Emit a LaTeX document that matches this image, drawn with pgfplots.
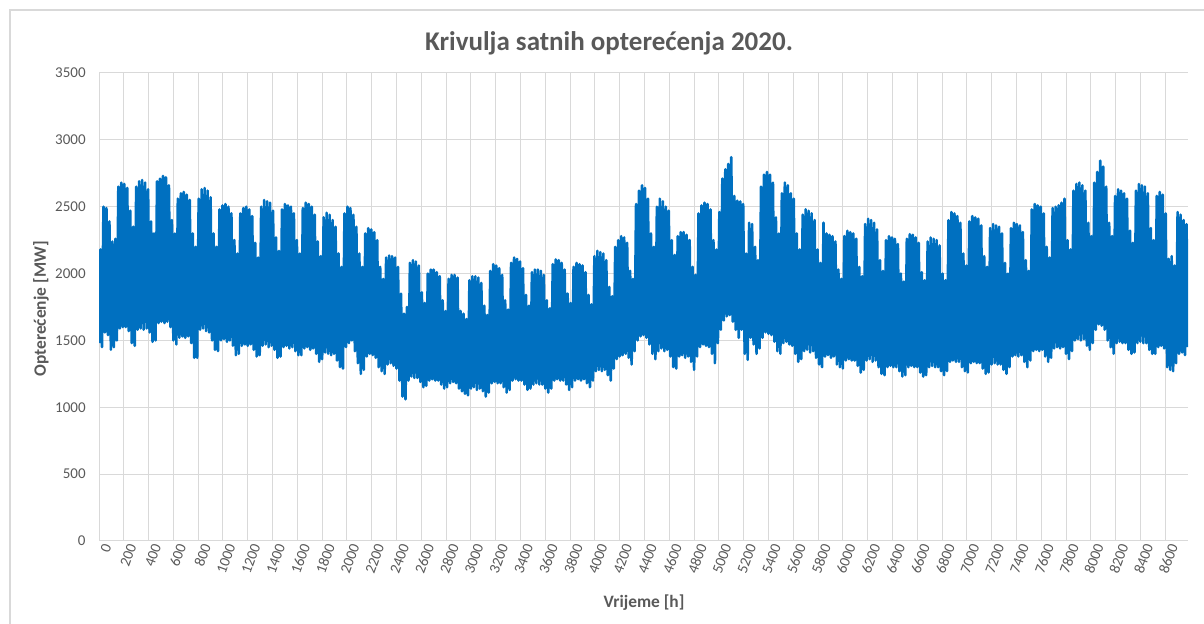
\documentclass[border=0pt]{standalone}
\usepackage{pgfplots}
\pgfplotsset{compat=1.18}
\usepackage{fontspec}
\setmainfont{Carlito}
\definecolor{loadblue}{RGB}{0,112,192}
\definecolor{txtgray}{RGB}{89,89,89}
\definecolor{gridgray}{RGB}{217,217,217}
\begin{document}
\begin{tikzpicture}[x=1pt,y=1pt]
% picture frame: 1204x624 px at 0.5pt per px
\useasboundingbox (0,0) rectangle (602,312);
\draw[gridgray, line width=0.6pt] (5,0) -- (5,307) -- (602,307);
\node[font=\bfseries\fontsize{13.5}{15}\selectfont, text=txtgray] at (304.5,290.5) {Krivulja satnih opterećenja 2020.};
\begin{axis}[
  at={(49.5pt,41.5pt)}, anchor=south west,
  scale only axis,
  width=544.5pt, height=234pt,
  xmin=0, xmax=8784,
  ymin=0, ymax=3500,
  xtick distance=200,
  ytick distance=500,
  grid=major,
  major grid style={gridgray, line width=0.5pt},
  axis line style={draw=none},
  major tick length=0pt,
  /pgf/number format/assume math mode=true,
  /pgf/number format/set thousands separator={},
  scaled ticks=false,
  tick label style={font=\fontsize{7.5}{8.5}\selectfont, text=txtgray},
  yticklabel style={inner sep=0pt, anchor=east, xshift=-6.5pt},
  xticklabel style={inner sep=0pt, rotate=70, anchor=east, yshift=-4.5pt},
  xlabel={Vrijeme [h]},
  ylabel={Opterećenje [MW]},
  label style={font=\bfseries\fontsize{8.7}{10}\selectfont, text=txtgray},
  xlabel style={at={(axis description cs:0.5005,-0.1325)}, anchor=center},
  ylabel style={at={(axis description cs:-0.0533,0.496)}, anchor=center, rotate=0},
]
\addplot[loadblue, line width=1.3pt, mark=none, line join=round] coordinates {
(0,1480)(12,2180)(24,1450)(36,2500)(48,1560)(60,2490)(72,1540)(84,2390)(96,1430)(108,2240)
(120,1450)(132,2260)(144,1500)(156,2650)(168,1590)(180,2680)(192,1600)(204,2670)(216,1600)(228,2640)(240,1570)(252,2470)(264,1480)(276,2350)
(288,1460)(300,2650)(312,1580)(324,2690)(336,1590)(348,2700)(360,1580)(372,2680)(384,1590)(396,2630)(408,1560)(420,2390)(432,1490)(444,2300)
(456,1500)(468,2690)(480,1630)(492,2710)(504,1640)(516,2730)(528,1630)(540,2720)(552,1640)(564,2660)(576,1600)(588,2400)(600,1500)(612,2300)
(624,1470)(636,2560)(648,1520)(660,2600)(672,1530)(684,2610)(696,1520)(708,2590)(720,1530)(732,2550)(744,1480)(756,2300)(768,1370)(780,2200)
(792,1370)(804,2560)(816,1580)(828,2630)(840,1590)(852,2640)(864,1570)(876,2620)(888,1560)(900,2570)(912,1500)(924,2300)(936,1430)(948,2200)
(960,1420)(972,2480)(984,1500)(996,2510)(1008,1510)(1020,2520)(1032,1490)(1044,2500)(1056,1500)(1068,2450)(1080,1460)(1092,2250)(1104,1390)(1116,2150)
(1128,1400)(1140,2450)(1152,1460)(1164,2490)(1176,1470)(1188,2500)(1200,1460)(1212,2480)(1224,1470)(1236,2430)(1248,1430)(1260,2230)(1272,1380)(1284,2120)
(1296,1390)(1308,2500)(1320,1460)(1332,2550)(1344,1470)(1356,2540)(1368,1450)(1380,2530)(1392,1460)(1404,2470)(1416,1430)(1428,2270)(1440,1370)(1452,2170)
(1464,1380)(1476,2480)(1488,1450)(1500,2520)(1512,1460)(1524,2510)(1536,1440)(1548,2500)(1560,1450)(1572,2450)(1584,1420)(1596,2250)(1608,1390)(1620,2150)
(1632,1390)(1644,2490)(1656,1440)(1668,2530)(1680,1450)(1692,2520)(1704,1430)(1716,2500)(1728,1440)(1740,2440)(1752,1400)(1764,2240)(1776,1340)(1788,2130)
(1800,1360)(1812,2420)(1824,1410)(1836,2455)(1848,1400)(1860,2440)(1872,1390)(1884,2400)(1896,1400)(1908,2350)(1920,1350)(1932,2150)(1944,1300)(1956,2050)
(1968,1290)(1980,2450)(1992,1450)(2004,2500)(2016,1480)(2028,2490)(2040,1500)(2052,2440)(2064,1420)(2076,2350)(2088,1330)(2100,2150)(2112,1250)(2124,2050)
(2136,1280)(2148,2300)(2160,1380)(2172,2340)(2184,1400)(2196,2330)(2208,1390)(2220,2310)(2232,1370)(2244,2250)(2256,1300)(2268,2050)(2280,1270)(2292,1960)
(2304,1250)(2316,2120)(2328,1320)(2340,2135)(2352,1330)(2364,2130)(2376,1310)(2388,2120)(2400,1290)(2412,2050)(2424,1200)(2436,1850)(2448,1080)(2460,1700)
(2472,1060)(2484,1750)(2496,1200)(2508,2080)(2520,1230)(2532,2100)(2544,1220)(2556,2090)(2568,1220)(2580,2060)(2592,1190)(2604,1860)(2616,1150)(2628,1780)
(2640,1160)(2652,2000)(2664,1200)(2676,2030)(2688,1210)(2700,2030)(2712,1200)(2724,2010)(2736,1200)(2748,1980)(2760,1170)(2772,1800)(2784,1140)(2796,1720)
(2808,1150)(2820,1960)(2832,1180)(2844,1990)(2856,1190)(2868,1990)(2880,1180)(2892,1970)(2904,1140)(2916,1720)(2928,1120)(2940,1700)(2952,1100)(2964,1660)
(2976,1090)(2988,1950)(3000,1140)(3012,1980)(3024,1150)(3036,1980)(3048,1130)(3060,1970)(3072,1140)(3084,1930)(3096,1120)(3108,1760)(3120,1080)(3132,1690)
(3144,1110)(3156,2020)(3168,1180)(3180,2070)(3192,1190)(3204,2060)(3216,1180)(3228,2040)(3240,1180)(3252,1990)(3264,1150)(3276,1800)(3288,1110)(3300,1730)
(3312,1130)(3324,2080)(3336,1200)(3348,2120)(3360,1210)(3372,2110)(3384,1200)(3396,2090)(3408,1200)(3420,2040)(3432,1170)(3444,1840)(3456,1130)(3468,1760)
(3480,1140)(3492,2010)(3504,1170)(3516,2030)(3528,1180)(3540,2030)(3552,1170)(3564,2020)(3576,1170)(3588,1990)(3600,1140)(3612,1800)(3624,1110)(3636,1740)
(3648,1140)(3660,2070)(3672,1200)(3684,2105)(3696,1210)(3708,2100)(3720,1200)(3732,2080)(3744,1200)(3756,2030)(3768,1170)(3780,1850)(3792,1130)(3804,1780)
(3816,1150)(3828,2050)(3840,1200)(3852,2080)(3864,1210)(3876,2070)(3888,1200)(3900,2060)(3912,1210)(3924,2010)(3936,1180)(3948,1840)(3960,1150)(3972,1770)
(3984,1200)(3996,2130)(4008,1270)(4020,2170)(4032,1280)(4044,2160)(4056,1270)(4068,2150)(4080,1280)(4092,2100)(4104,1240)(4116,1900)(4128,1200)(4140,1830)
(4152,1290)(4164,2200)(4176,1360)(4188,2250)(4200,1380)(4212,2280)(4224,1390)(4236,2270)(4248,1400)(4260,2230)(4272,1370)(4284,2020)(4296,1320)(4308,1960)
(4320,1420)(4332,2520)(4344,1500)(4356,2620)(4368,1530)(4380,2660)(4392,1540)(4404,2640)(4416,1520)(4428,2560)(4440,1470)(4452,2300)(4464,1400)(4476,2200)
(4488,1360)(4500,2500)(4512,1420)(4524,2560)(4536,1440)(4548,2540)(4560,1420)(4572,2500)(4584,1430)(4596,2470)(4608,1380)(4620,2250)(4632,1300)(4644,2140)
(4656,1290)(4668,2280)(4680,1380)(4692,2310)(4704,1390)(4716,2310)(4728,1370)(4740,2290)(4752,1380)(4764,2250)(4776,1340)(4788,2050)(4800,1280)(4812,1990)
(4824,1380)(4836,2450)(4848,1450)(4860,2510)(4872,1470)(4884,2530)(4896,1460)(4908,2520)(4920,1450)(4932,2480)(4944,1400)(4956,2250)(4968,1330)(4980,2180)
(4992,1480)(5004,2460)(5016,1580)(5028,2710)(5040,1650)(5052,2780)(5064,1680)(5076,2820)(5088,1690)(5100,2870)(5112,1640)(5124,2580)(5136,1580)(5148,2545)
(5160,1520)(5172,2540)(5184,1580)(5196,2520)(5208,1400)(5220,2150)(5232,1355)(5244,2380)(5256,1520)(5268,2370)(5280,1470)(5292,2200)(5304,1400)(5316,2100)
(5328,1440)(5340,2650)(5352,1520)(5364,2740)(5376,1560)(5388,2760)(5400,1550)(5412,2740)(5424,1540)(5436,2680)(5448,1490)(5460,2420)(5472,1420)(5484,2300)
(5496,1400)(5508,2600)(5520,1480)(5532,2680)(5544,1490)(5556,2660)(5568,1470)(5580,2600)(5592,1460)(5604,2560)(5616,1400)(5628,2300)(5640,1340)(5652,2180)
(5664,1360)(5676,2440)(5688,1420)(5700,2480)(5712,1430)(5724,2470)(5736,1410)(5748,2450)(5760,1420)(5772,2400)(5784,1370)(5796,2180)(5808,1320)(5820,2080)
(5832,1300)(5844,2380)(5856,1380)(5868,2300)(5880,1390)(5892,2290)(5904,1370)(5916,2280)(5928,1380)(5940,2240)(5952,1320)(5964,2030)(5976,1300)(5988,1960)
(6000,1290)(6012,2280)(6024,1350)(6036,2320)(6048,1360)(6060,2310)(6072,1350)(6084,2300)(6096,1350)(6108,2260)(6120,1310)(6132,2050)(6144,1260)(6156,1980)
(6168,1280)(6180,2370)(6192,1350)(6204,2410)(6216,1360)(6228,2400)(6240,1340)(6252,2380)(6264,1350)(6276,2330)(6288,1300)(6300,2100)(6312,1250)(6324,2020)
(6336,1240)(6348,2250)(6360,1300)(6372,2280)(6384,1310)(6396,2270)(6408,1300)(6420,2260)(6432,1300)(6444,2220)(6456,1270)(6468,2000)(6480,1230)(6492,1940)
(6504,1240)(6516,2260)(6528,1300)(6540,2295)(6552,1310)(6564,2290)(6576,1300)(6588,2270)(6600,1300)(6612,2230)(6624,1260)(6636,2010)(6648,1230)(6660,1950)
(6672,1240)(6684,2240)(6696,1300)(6708,2270)(6720,1310)(6732,2260)(6744,1300)(6756,2250)(6768,1300)(6780,2210)(6792,1270)(6804,2000)(6816,1240)(6828,1950)
(6840,1270)(6852,2400)(6864,1340)(6876,2460)(6888,1350)(6900,2450)(6912,1340)(6924,2430)(6936,1340)(6948,2380)(6960,1300)(6972,2150)(6984,1270)(6996,2060)
(7008,1260)(7020,2390)(7032,1330)(7044,2430)(7056,1340)(7068,2420)(7080,1330)(7092,2410)(7104,1330)(7116,2360)(7128,1290)(7140,2130)(7152,1250)(7164,2050)
(7176,1260)(7188,2340)(7200,1320)(7212,2370)(7224,1330)(7236,2360)(7248,1320)(7260,2350)(7272,1320)(7284,2300)(7296,1280)(7308,2080)(7320,1250)(7332,2000)
(7344,1300)(7356,2340)(7368,1380)(7380,2380)(7392,1390)(7404,2370)(7416,1380)(7428,2360)(7440,1390)(7452,2310)(7464,1340)(7476,2100)(7488,1300)(7500,2020)
(7512,1350)(7524,2480)(7536,1420)(7548,2520)(7560,1430)(7572,2510)(7584,1420)(7596,2500)(7608,1430)(7620,2450)(7632,1380)(7644,2200)(7656,1340)(7668,2120)
(7680,1370)(7692,2490)(7704,1440)(7716,2500)(7728,1450)(7740,2510)(7752,1440)(7764,2530)(7776,1450)(7788,2560)(7800,1400)(7812,2250)(7824,1360)(7836,2180)
(7848,1420)(7860,2620)(7872,1500)(7884,2670)(7896,1510)(7908,2680)(7920,1500)(7932,2660)(7944,1510)(7956,2620)(7968,1460)(7980,2380)(7992,1430)(8004,2280)
(8016,1480)(8028,2680)(8040,1580)(8052,2760)(8064,1620)(8076,2845)(8088,1610)(8100,2800)(8112,1580)(8124,2650)(8136,1500)(8148,2380)(8160,1450)(8172,2280)
(8184,1400)(8196,2580)(8208,1480)(8220,2630)(8232,1490)(8244,2620)(8256,1480)(8268,2600)(8280,1480)(8292,2560)(8304,1430)(8316,2320)(8328,1400)(8340,2230)
(8352,1410)(8364,2620)(8376,1480)(8388,2670)(8400,1490)(8412,2660)(8424,1480)(8436,2650)(8448,1480)(8460,2600)(8472,1430)(8484,2340)(8496,1400)(8508,2250)
(8520,1400)(8532,2580)(8544,1450)(8556,2610)(8568,1460)(8580,2590)(8592,1440)(8604,2450)(8616,1300)(8628,2110)(8640,1280)(8652,2130)(8664,1270)(8676,2060)
(8688,1330)(8700,2460)(8712,1400)(8724,2440)(8736,1410)(8748,2400)(8760,1390)(8772,2370)(8784,1450)
};
\end{axis}
\end{tikzpicture}
\end{document}
